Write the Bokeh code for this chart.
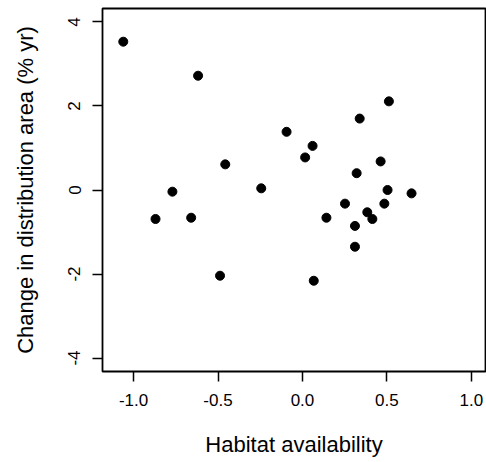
from bokeh.plotting import figure
from bokeh.models import Range1d, FixedTicker
from bokeh.embed import file_html
from bokeh.resources import INLINE

habitat = [-1.061, -0.618, -0.870, -0.770, -0.659, -0.457, -0.244, -0.094, 0.016, 0.060,
           0.142, 0.252, 0.311, 0.321, 0.339, 0.384, 0.414, 0.463, 0.485, 0.504,
           0.512, 0.646, -0.488, 0.067, 0.311]
change = [3.53, 2.72, -0.69, -0.04, -0.66, 0.61, 0.04, 1.385, 0.775, 1.05,
          -0.66, -0.325, -0.855, 0.40, 1.70, -0.53, -0.69, 0.68, -0.325, 0.0,
          2.11, -0.08, -2.04, -2.16, -1.35]

x_ticks = [-1.0, -0.5, 0.0, 0.5, 1.0]
x_tick_labels = ["-1.0", "-0.5", "0.0", "0.5", "1.0"]
y_ticks = [-4, -2, 0, 2, 4]
y_tick_labels = ["-4", "-2", "0", "2", "4"]

FONT = "Liberation Sans"

p = figure(width=486, height=462, output_backend="svg", toolbar_location=None,
           x_range=Range1d(-1.184, 1.084), y_range=Range1d(-4.32, 4.32),
           min_border_left=102, min_border_right=1, min_border_top=8, min_border_bottom=91)

p.scatter(habitat, change, size=9, fill_color="black", line_color="black")

p.grid.visible = False
p.outline_line_color = "black"
p.outline_line_width = 1.8
p.background_fill_color = "white"
p.border_fill_color = "white"

p.xaxis.ticker = FixedTicker(ticks=x_ticks)
p.yaxis.ticker = FixedTicker(ticks=y_ticks)
p.xaxis.major_label_overrides = dict(zip(x_ticks, x_tick_labels))
p.yaxis.major_label_overrides = dict(zip(y_ticks, y_tick_labels))

p.xaxis.axis_label = "Habitat availability"
p.yaxis.axis_label = "Change in distribution area (% yr)"

for ax in (p.xaxis, p.yaxis):
    ax.axis_line_color = None
    ax.major_tick_in = 0
    ax.major_tick_out = 10
    ax.major_tick_line_width = 1.5
    ax.major_tick_line_color = "black"
    ax.minor_tick_line_color = None
    ax.major_label_text_font = FONT
    ax.major_label_text_font_size = "17px"
    ax.major_label_text_color = "black"
    ax.axis_label_text_font = FONT
    ax.axis_label_text_font_size = "22px"
    ax.axis_label_text_font_style = "normal"
    ax.axis_label_text_color = "black"
    ax.major_label_standoff = 12

p.yaxis.major_label_orientation = "vertical"
p.xaxis.axis_label_standoff = 23
p.yaxis.axis_label_standoff = 28

open("out.html", "w").write(file_html(p, INLINE))
